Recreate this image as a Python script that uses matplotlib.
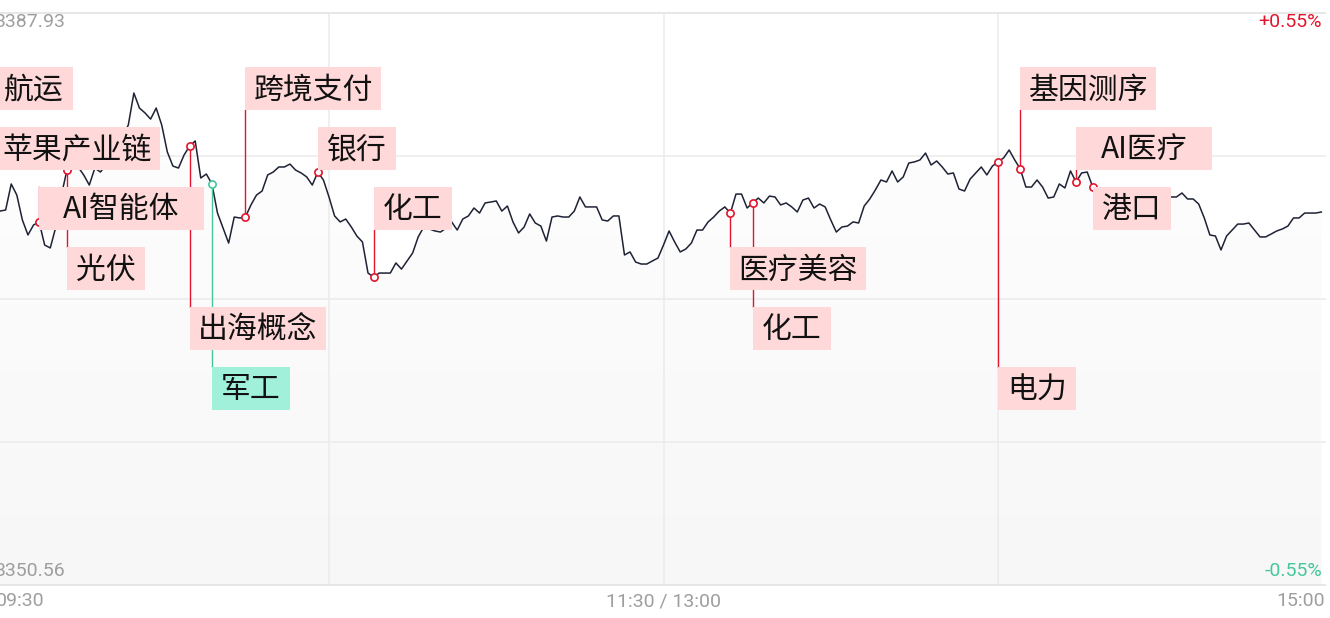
import numpy as np
import matplotlib
matplotlib.use("Agg")
import matplotlib.pyplot as plt
from matplotlib.patches import Rectangle
from matplotlib.colors import LinearSegmentedColormap

plt.rcParams['font.family'] = ['Noto Sans CJK SC', 'DejaVu Sans']

# intraday index, one value per minute from 09:30
prices = [
    3374.99, 3374.99, 3375.06, 3376.76, 3376.04, 3374.41, 3373.43, 3374.08, 3374.28, 3372.77,
    3372.58, 3373.95, 3376.04, 3377.67, 3377.74, 3377.87, 3377.35, 3376.69, 3377.80, 3377.54,
    3378.00, 3378.46, 3379.11, 3379.89, 3380.61, 3382.70, 3381.72, 3381.40, 3381.00, 3381.72,
    3380.61, 3378.85, 3377.93, 3377.80, 3378.65, 3379.24, 3379.57, 3377.15, 3377.41, 3376.76,
    3374.86, 3373.88, 3372.90, 3374.60, 3374.54, 3374.60, 3375.39, 3376.04, 3376.30, 3377.35,
    3377.54, 3377.87, 3377.87, 3378.06, 3377.67, 3377.48, 3377.22, 3376.69, 3377.54, 3377.02,
    3375.91, 3374.67, 3374.28, 3374.47, 3373.95, 3373.36, 3372.97, 3370.94, 3370.68, 3370.94,
    3370.94, 3370.94, 3371.60, 3371.20, 3371.73, 3372.25, 3373.30, 3373.95, 3373.82, 3373.69,
    3373.62, 3373.88, 3374.28, 3373.75, 3374.47, 3374.67, 3375.19, 3374.86, 3375.52, 3375.58,
    3375.65, 3374.99, 3375.32, 3374.28, 3373.56, 3373.95, 3374.80, 3374.21, 3374.01, 3373.03,
    3374.60, 3374.67, 3374.60, 3374.60, 3374.99, 3375.91, 3375.26, 3375.26, 3375.26, 3374.41,
    3374.34, 3374.67, 3374.67, 3372.12, 3372.32, 3371.66, 3371.53, 3371.53, 3371.73, 3371.92,
    3372.77, 3373.69, 3372.97, 3372.32, 3372.51, 3372.90, 3373.75, 3373.75, 3374.28, 3374.60,
    3374.99, 3375.26, 3374.86, 3376.10, 3376.10, 3375.19, 3375.52, 3375.84, 3375.52, 3375.97,
    3375.91, 3375.39, 3375.52, 3375.26, 3374.93, 3375.71, 3375.84, 3375.19, 3375.45, 3375.26,
    3374.41, 3373.62, 3373.95, 3374.01, 3374.28, 3374.21, 3375.32, 3375.78, 3376.37, 3377.02,
    3376.89, 3377.61, 3376.89, 3377.22, 3378.13, 3378.20, 3378.33, 3378.78, 3378.00, 3378.26,
    3377.87, 3377.41, 3377.48, 3376.43, 3376.30, 3377.08, 3377.48, 3377.87, 3377.35, 3377.93,
    3378.20, 3378.46, 3378.98, 3378.33, 3377.74, 3376.56, 3376.56, 3377.02, 3376.56, 3375.84,
    3375.91, 3376.76, 3376.50, 3377.61, 3376.89, 3377.48, 3377.54, 3376.56, 3376.04, 3376.24,
    3375.91, 3375.71, 3376.04, 3376.37, 3376.17, 3375.78, 3375.97, 3376.30, 3376.10, 3375.84,
    3375.97, 3375.91, 3375.91, 3376.17, 3375.78, 3375.78, 3375.45, 3374.54, 3373.43, 3373.36,
    3372.45, 3373.36, 3373.75, 3374.14, 3374.14, 3374.21, 3373.75, 3373.30, 3373.30, 3373.49,
    3373.69, 3373.82, 3374.01, 3374.54, 3374.54, 3374.86, 3374.86, 3374.86, 3374.93,
]
minutes = np.arange(len(prices))

price_top = 3387.93
price_bottom = 3350.56
pct_top = "+0.55%"
pct_bottom = "-0.55%"
time_labels = ["09:30", "11:30 / 13:00", "15:00"]

# sector events: label, minute index, kind ("up" red / "down" green)
event_labels = ["航运", "苹果产业链", "AI智能体", "光伏", "出海概念", "军工",
                "跨境支付", "银行", "化工", "医疗美容", "化工", "电力",
                "基因测序", "AI医疗", "港口"]
event_minutes = [0, 0, 8, 13, 35, 39, 45, 58, 68, 132, 136, 180, 184, 194, 197]
event_kinds = ["up", "up", "up", "up", "up", "down",
               "up", "up", "up", "up", "up", "up",
               "up", "up", "up"]

W, H = 1330, 618
fig = plt.figure(figsize=(W / 100, H / 100), dpi=100)
fig.patch.set_facecolor("white")

# plot area in pixels (left edge sits just outside the picture)
ax_left, ax_top, ax_w, ax_h = -5.5, 13, 1338, 572
ax = fig.add_axes([ax_left / W, (H - ax_top - ax_h) / H, ax_w / W, ax_h / H])
ax.set_xlim(0, 240)
ax.set_ylim(price_bottom, price_top)
ax.set_xticks([])
ax.set_yticks([])
for s in ["left", "right"]:
    ax.spines[s].set_visible(False)
for s in ["top", "bottom"]:
    ax.spines[s].set_color("#e3e3e3")
    ax.spines[s].set_linewidth(1.2)

px_per_min = ax_w / 240
price_per_px = (price_top - price_bottom) / ax_h


def px_to_price(y_px):
    return price_top - (y_px - ax_top) * price_per_px


# grid
for q in [0.25, 0.5, 0.75]:
    ax.axhline(price_bottom + q * (price_top - price_bottom), color="#ebebeb", lw=1.1, zorder=1)
    ax.axvline(240 * q, color="#ebebeb", lw=1.1, zorder=1)

# soft gradient under the price line
area = ax.fill_between(minutes, prices, price_bottom, color="none", lw=0)
grad = LinearSegmentedColormap.from_list("g", ["#f7f7f7", "#fefefe"])
img = ax.imshow(np.linspace(0, 1, 256).reshape(-1, 1), cmap=grad, aspect="auto",
                origin="lower", extent=[0, 240, price_bottom, max(prices)], zorder=0.5)
img.set_clip_path(area.get_paths()[0], transform=ax.transData)
ax.set_xlim(0, 240)
ax.set_ylim(price_bottom, price_top)

ax.plot(minutes, prices, color="#1e2235", lw=1.1, zorder=3)

red = "#e3142d"
green = "#45c79c"
pink = "#ffd9d9"
teal = "#a0f0da"
em = 29  # px per CJK character

for i, (lab, m, kind) in enumerate(zip(event_labels, event_minutes, event_kinds)):
    row = i % 6
    top_px = 67 + 60 * row
    bot_px = top_px + 43
    box_top = px_to_price(top_px)
    box_bot = px_to_price(bot_px)
    p = prices[m]
    line_c = red if kind == "up" else green
    face_c = pink if kind == "up" else teal
    # stem to the nearer edge of the label box
    if p < box_bot:
        ax.plot([m, m], [p, box_bot], color=line_c, lw=1.0, zorder=4)
    else:
        ax.plot([m, m], [p, box_top], color=line_c, lw=1.0, zorder=4)
    ax.plot(m, p, "o", ms=5.2, mfc="white", mec=line_c, mew=1.2, zorder=5)
    w = (len(lab) * em + 20) / px_per_min
    ax.add_patch(Rectangle((m, box_bot), w, box_top - box_bot, facecolor=face_c,
                           edgecolor="none", zorder=6))
    ax.text(m + w / 2, px_to_price(top_px + 23), lab, ha="center", va="center",
            fontsize=21.5, color="#111111", zorder=7)

# value labels
num_font = ["Roboto", "DejaVu Sans"]
fig.text(-6 / W, 1 - 22 / H, f"{price_top:.2f}", ha="left", va="center",
         fontsize=14, color="#9e9e9e", family=num_font)
fig.text(-6 / W, 1 - 571 / H, f"{price_bottom:.2f}", ha="left", va="center",
         fontsize=14, color="#9e9e9e", family=num_font)
fig.text(1322 / W, 1 - 22 / H, pct_top, ha="right", va="center",
         fontsize=14, color=red, family=num_font)
fig.text(1322 / W, 1 - 571 / H, pct_bottom, ha="right", va="center",
         fontsize=14, color=green, family=num_font)

fig.text(-4 / W, 1 - 601 / H, time_labels[0], ha="left", va="center",
         fontsize=14, color="#9e9e9e", family=num_font)
fig.text(663 / W, 1 - 601 / H, time_labels[1], ha="center", va="center",
         fontsize=14, color="#9e9e9e", family=num_font)
fig.text(1325 / W, 1 - 601 / H, time_labels[2], ha="right", va="center",
         fontsize=14, color="#9e9e9e", family=num_font)

# white margin on the right edge
fig.add_artist(Rectangle((1326 / W, (H - 590) / H), 4 / W, 580 / H,
                         transform=fig.transFigure, facecolor="white",
                         edgecolor="none", zorder=10))

fig.savefig("out.png", dpi=100, facecolor="white")
